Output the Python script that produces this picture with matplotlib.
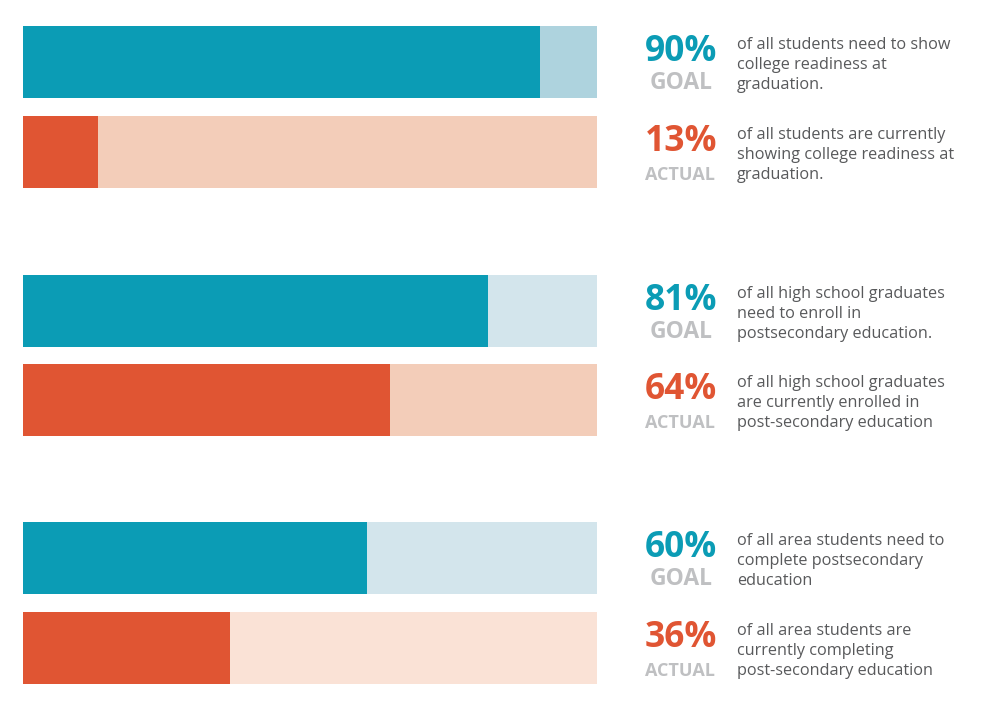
import matplotlib.pyplot as plt
from matplotlib.transforms import blended_transform_factory

# data
values = [90, 13, 81, 64, 60, 36]
kinds = ['GOAL', 'ACTUAL', 'GOAL', 'ACTUAL', 'GOAL', 'ACTUAL']
descs = [
    'of all students need to show\ncollege readiness at\ngraduation.',
    'of all students are currently\nshowing college readiness at\ngraduation.',
    'of all high school graduates\nneed to enroll in\npostsecondary education.',
    'of all high school graduates\nare currently enrolled in\npost-secondary education',
    'of all area students need to\ncomplete postsecondary\neducation',
    'of all area students are\ncurrently completing\npost-secondary education',
]

# layout / style
centers = [62, 152, 311, 400, 558, 648]
bar_h = 72
fg = ['#0b9cb5', '#e05533'] * 3
bg = ['#aed3de', '#f3cdb9', '#d3e5ec', '#f3cdb9', '#d3e5ec', '#fae2d6']

fig = plt.figure(figsize=(10, 7.06), dpi=100)
ax = fig.add_axes([0.023, 0, 0.574, 1])
ax.set_xlim(0, 100)
ax.set_ylim(706, 0)
ax.axis('off')

ax.barh(centers, [100] * 6, height=bar_h, color=bg, linewidth=0)
ax.barh(centers, values, height=bar_h, color=fg, linewidth=0)

tr = blended_transform_factory(fig.transFigure, ax.transData)
for v, k, d, c, col in zip(values, kinds, descs, centers, fg):
    ax.text(0.681, c - 1, f'{v}%', transform=tr, ha='center', va='baseline',
            fontsize=25.5, fontweight='bold', color=col, family='Open Sans')
    if k == 'GOAL':
        ax.text(0.681, c + 27, k, transform=tr, ha='center', va='baseline',
                fontsize=16.5, fontweight='bold', color='#bfc0c2', family='Open Sans')
    else:
        ax.text(0.680, c + 28, k, transform=tr, ha='center', va='baseline',
                fontsize=13, fontweight='bold', color='#bfc0c2', family='Open Sans')
    ax.text(0.737, c + 3, d, transform=tr, ha='left', va='center',
            fontsize=11.7, color='#58595b', family='Open Sans', linespacing=1.36)

fig.savefig('out.png', dpi=100)
